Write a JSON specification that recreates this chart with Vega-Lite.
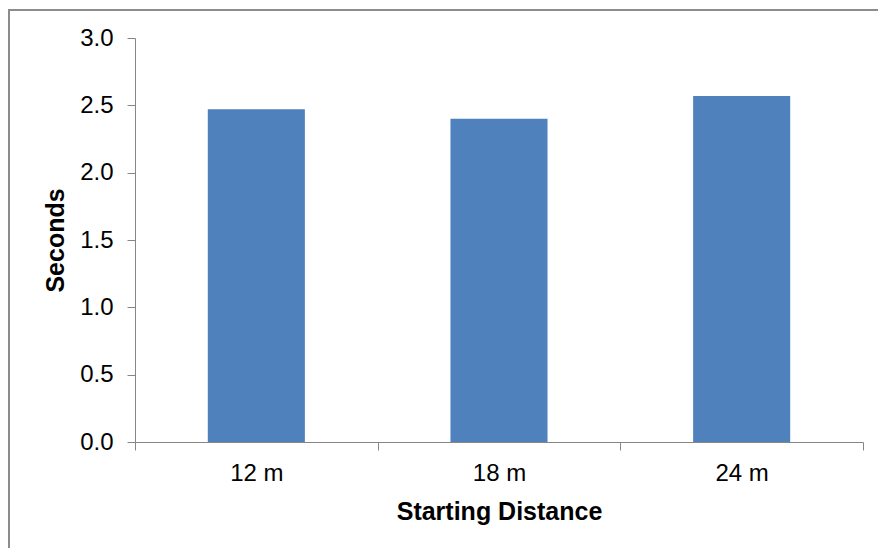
{
  "$schema": "https://vega.github.io/schema/vega-lite/v6.json",
  "autosize": "none",
  "padding": {"left": 9, "top": 10, "right": 0, "bottom": 0},
  "width": 880,
  "height": 560,
  "background": "white",
  "config": {
    "view": {"stroke": "#8c8c8c", "strokeWidth": 2, "fill": "white"},
    "font": "Liberation Sans",
    "axis": {
      "labelFont": "Liberation Sans",
      "titleFont": "Liberation Sans",
      "labelColor": "#000000",
      "titleColor": "#000000",
      "domainColor": "#868686",
      "tickColor": "#868686",
      "domainWidth": 1,
      "tickWidth": 1,
      "grid": false
    }
  },
  "data": {
    "values": [
      {"distance": "12 m", "seconds": 2.47},
      {"distance": "18 m", "seconds": 2.40},
      {"distance": "24 m", "seconds": 2.57}
    ]
  },
  "mark": {"type": "bar", "color": "#4f81bd", "width": {"band": 0.4}},
  "encoding": {
    "x": {
      "field": "distance",
      "type": "nominal",
      "sort": null,
      "scale": {"range": [126, 854], "paddingInner": 0, "paddingOuter": 0},
      "axis": {
        "title": "Starting Distance",
        "offset": -128,
        "labelAngle": 0,
        "labelFontSize": 24,
        "titleFontSize": 25,
        "titleFontWeight": "bold",
        "tickBand": "extent",
        "tickSize": 8,
        "labelPadding": 11,
        "titlePadding": 14
      }
    },
    "y": {
      "field": "seconds",
      "type": "quantitative",
      "scale": {"domain": [0, 3], "range": [432, 28], "nice": false, "zero": true},
      "axis": {
        "title": "Seconds",
        "offset": -126,
        "values": [0, 0.5, 1, 1.5, 2, 2.5, 3],
        "format": ".1f",
        "labelFontSize": 24,
        "titleFontSize": 25,
        "titleFontWeight": "bold",
        "tickSize": 8,
        "labelPadding": 14,
        "titlePadding": 11
      }
    }
  }
}
